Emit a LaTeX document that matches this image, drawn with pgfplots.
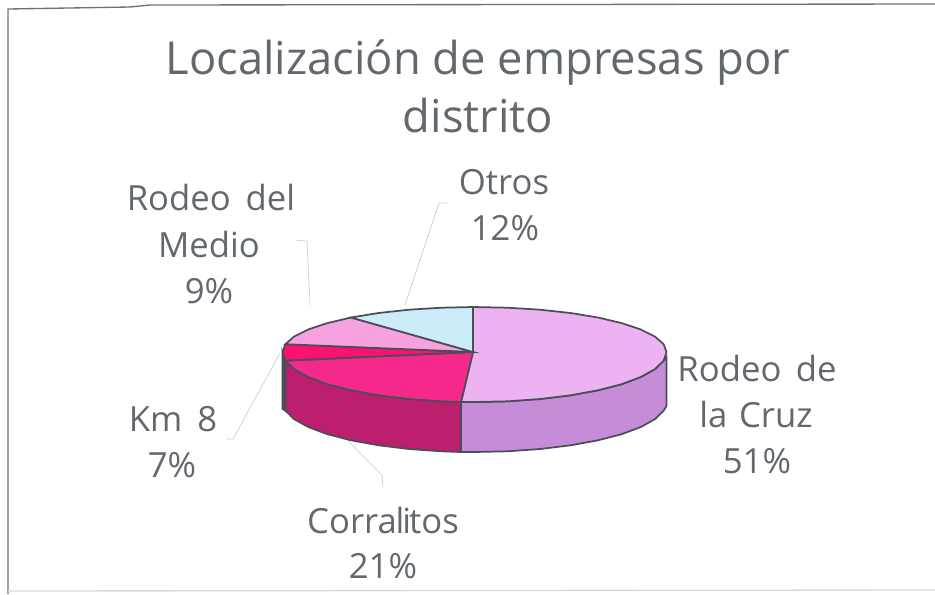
\documentclass[border=0pt]{standalone}
\usepackage{fontspec}
\setmainfont{Open Sans}
\usepackage{pgfplots}
\pgfplotsset{compat=1.18}

\definecolor{txt}{HTML}{62686E}
\definecolor{edge}{HTML}{4A4E58}
\definecolor{leader}{HTML}{CCCCCC}
\definecolor{cruzT}{HTML}{EDB2F2}
\definecolor{cruzS}{HTML}{C68CD8}
\definecolor{corrT}{HTML}{F5288C}
\definecolor{corrS}{HTML}{BC1F6E}
\definecolor{kmT}{HTML}{FA1270}
\definecolor{medioT}{HTML}{F5A2DE}
\definecolor{otrosT}{HTML}{CBECF8}

\newcommand{\lab}[3]{\node[anchor=base,text=txt,font=\fontsize{26}{26}\selectfont,inner sep=0pt] at (axis cs:#1,#2) {#3};}
\newcommand{\ttl}[3]{\node[anchor=base,text=txt,font=\fontsize{34}{34}\selectfont,inner sep=0pt] at (axis cs:#1,#2) {#3};}

\begin{document}
\begin{tikzpicture}
\begin{axis}[
    scale only axis,
    width=701.25pt,
    height=445.5pt,
    xmin=0, xmax=935,
    ymin=0, ymax=594,
    y dir=reverse,
    hide axis,
    clip=false,
    every axis plot/.append style={mark=none},
]
% frame
\addplot[color=edge!80, line width=1pt] coordinates {(8,594) (8,9) (130,7) (150,5) (935,4)};
\addplot[color=black!15, line width=1pt] coordinates {(8,591) (935,590)};

% leader lines
\addplot[color=leader, line width=0.5pt] coordinates {(405,305) (439,203) (447,203)};
\addplot[color=leader, line width=0.5pt] coordinates {(295,240) (307,241) (310,305)};
\addplot[color=leader, line width=0.5pt] coordinates {(280,353) (233,439) (227,439)};
\addplot[color=leader, line width=0.5pt] coordinates {(347,440) (382,475) (383,487)};

% sides
\addplot[fill=edge, draw=edge, line width=1.3pt] coordinates {(282.5,352) (285.4,360.7) (285.4,410.7) (282.5,409)} -- cycle;
\addplot[fill=corrS, draw=edge, line width=1.3pt] coordinates {(461,402) (441.2,401.3) (408.8,399) (378.5,395.3) (351,390.3) (327.4,384.2) (308.2,377) (294,369.1) (285.4,360.7) (285.4,410.7) (294,419.1) (308.2,427) (327.4,434.2) (351,440.3) (378.5,445.3) (408.8,449) (441.2,451.3) (461,452)} -- cycle;
\addplot[fill=cruzS, draw=edge, line width=1.3pt] coordinates {(666.5,357) (663.6,360.7) (655,369.1) (640.8,377) (621.6,384.2) (598,390.3) (570.5,395.3) (540.2,399) (507.8,401.3) (474.5,402) (461,402) (461,452) (474.5,452) (507.8,451.3) (540.2,449) (570.5,445.3) (598,440.3) (621.6,434.2) (640.8,427) (655,419.1) (663.6,410.7) (666.5,406)} -- cycle;

% top faces, clockwise from 12 o'clock
\addplot[fill=cruzT, draw=edge, line width=1.3pt] coordinates {(473,352) (473,307) (507.8,307.7) (540.2,309.7) (570.5,313) (598,317.5) (621.6,323.1) (640.8,329.5) (655,336.6) (663.6,344.2) (666.5,352) (663.6,360.7) (655,369.1) (640.8,377) (621.6,384.2) (598,390.3) (570.5,395.3) (540.2,399) (507.8,401.3) (474.5,402) (461,402)} -- cycle;
\addplot[fill=corrT, draw=edge, line width=1.3pt] coordinates {(473,352) (461,402) (441.2,401.3) (408.8,399) (378.5,395.3) (351,390.3) (327.4,384.2) (308.2,377) (294,369.1) (285.4,360.7)} -- cycle;
\addplot[fill=kmT, draw=edge, line width=1.3pt] coordinates {(473,352) (285.4,360.7) (282.5,352) (285.4,344.2)} -- cycle;
\addplot[fill=medioT, draw=edge, line width=1.3pt] coordinates {(473,352) (285.4,344.2) (294,336.6) (308.2,329.5) (327.4,323.1) (351,317.5)} -- cycle;
\addplot[fill=otrosT, draw=edge, line width=1.3pt] coordinates {(473,352) (351,317.5) (378.5,313) (408.8,309.7) (441.2,307.7) (473,307)} -- cycle;

% text
\ttl{478}{74}{Localización de empresas por}
\ttl{478}{132}{distrito}
\lab{504}{194}{Otros}
\lab{505}{240}{12\%}
\lab{211}{210}{Rodeo\hspace{4.5pt} del}
\lab{209}{257}{Medio}
\lab{209}{303}{9\%}
\lab{757}{381}{Rodeo\hspace{4pt} de}
\lab{756}{427}{la\hspace{2pt} Cruz}
\lab{757}{473}{51\%}
\lab{173}{431}{Km\hspace{4.5pt} 8}
\lab{172}{477}{7\%}
\lab{383}{533}{Corra\kern-1pt l\kern-1.5pt i\kern-1.5pt tos}
\lab{383}{578}{21\%}
\end{axis}
\pgfresetboundingbox
\path[use as bounding box] (0,0) rectangle (701.25pt,445.5pt);
\end{tikzpicture}
\end{document}
